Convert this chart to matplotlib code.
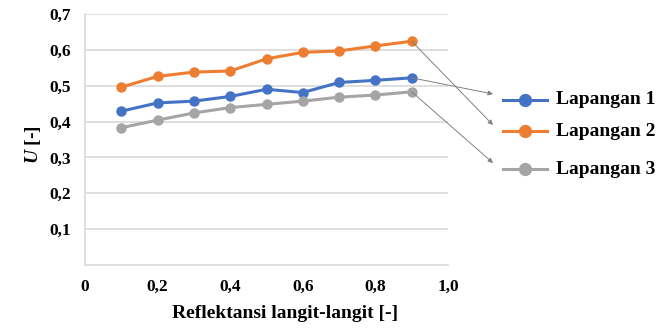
import matplotlib.pyplot as plt
from matplotlib.lines import Line2D

plt.rcParams['font.family'] = 'Liberation Serif'
plt.rcParams['font.weight'] = 'bold'
plt.rcParams['mathtext.fontset'] = 'custom'
plt.rcParams['mathtext.it'] = 'Liberation Serif:italic:bold'

x = [0.1, 0.2, 0.3, 0.4, 0.5, 0.6, 0.7, 0.8, 0.9]
lap1 = [0.429, 0.452, 0.457, 0.470, 0.490, 0.481, 0.509, 0.515, 0.522]
lap2 = [0.496, 0.526, 0.538, 0.541, 0.575, 0.593, 0.597, 0.611, 0.624]
lap3 = [0.383, 0.404, 0.424, 0.439, 0.448, 0.457, 0.468, 0.474, 0.483]
names = ['Lapangan 1', 'Lapangan 2', 'Lapangan 3']
colors = ['#4472C4', '#ED7D31', '#A5A5A5']

xticks = [0, 0.2, 0.4, 0.6, 0.8, 1.0]
xticklabels = ['0', '0,2', '0,4', '0,6', '0,8', '1,0']
yticks = [0.1, 0.2, 0.3, 0.4, 0.5, 0.6, 0.7]
yticklabels = ['0,1', '0,2', '0,3', '0,4', '0,5', '0,6', '0,7']

W, H = 656, 329
fig = plt.figure(figsize=(W/100, H/100), dpi=100)
ax = fig.add_axes([85/W, 1 - 265/H, (448-85)/W, (265-14)/H])

for y, c in zip([lap1, lap2, lap3], colors):
    ax.plot(x, y, color=c, lw=2.2, marker='o', ms=6.5, zorder=3, clip_on=False)

ax.set_xlim(0, 1.0)
ax.set_ylim(0, 0.7)
ax.set_xticks(xticks)
ax.set_xticklabels(xticklabels)
ax.set_yticks(yticks)
ax.set_yticklabels(yticklabels)
ax.tick_params(length=0, labelsize=12.5, pad=10)
ax.grid(axis='y', color='#d9d9d9', lw=1.2)
for s in ['top', 'right']:
    ax.spines[s].set_visible(False)
for s in ['left', 'bottom']:
    ax.spines[s].set_color('#d9d9d9')
    ax.spines[s].set_linewidth(1.2)

fig.text(285/W, 1 - 313/H, 'Reflektansi langit-langit [-]', ha='center', va='center', fontsize=14)
fig.text(33/W, 1 - 145/H, r'$U$ [-]', ha='center', va='center', rotation=90, fontsize=14)

# legend outside with arrows from the last points
leg_y = [100, 131, 169]
for y, c, n, ly in zip([lap1, lap2, lap3], colors, names, leg_y):
    fy = 1 - ly/H
    fig.add_artist(Line2D([503/W, 547/W], [fy, fy], color=c, lw=2.2))
    fig.add_artist(Line2D([525/W], [fy], color=c, marker='o', ms=8.5, ls='none'))
    fig.text(556/W, fy, n, ha='left', va='center', fontsize=14)
    ax.annotate('', xy=(493/W, fy + 6/H), xycoords='figure fraction',
                xytext=(x[-1], y[-1]), textcoords='data',
                arrowprops=dict(arrowstyle='-|>', color='#808080', lw=0.7,
                                mutation_scale=7, shrinkA=0, shrinkB=0))

fig.savefig('out.png', dpi=100)
